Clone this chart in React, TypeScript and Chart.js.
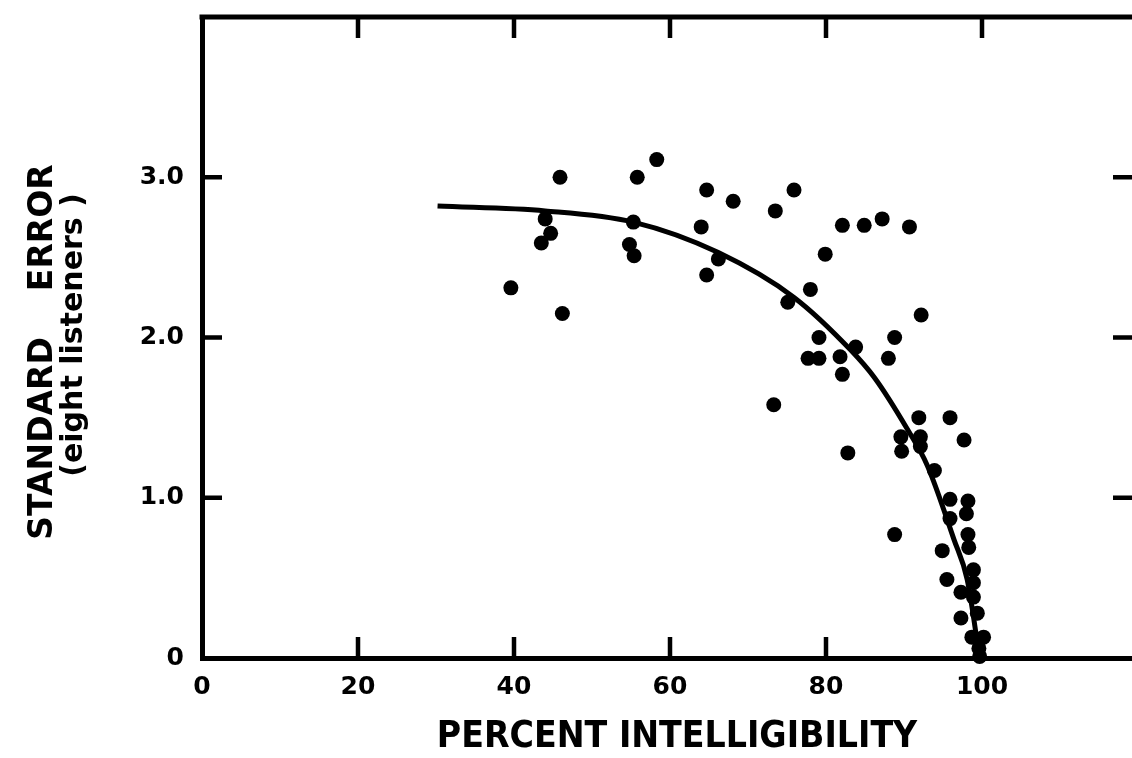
import { useEffect, useRef } from "react";
import { Chart, registerables } from "chart.js";

Chart.register(...registerables);

// Observed listener results: percent intelligibility vs. standard error
const intelligibility = [
  39.6, 43.5, 44.0, 44.7, 45.9, 46.2, 54.8, 55.3, 55.4, 55.8, 58.3,
  64.0, 64.7, 64.7, 66.2, 68.1, 73.5, 75.9, 75.1, 73.3, 78.0, 79.9,
  82.1, 84.9, 87.2, 90.7, 92.2, 79.1, 88.8, 77.7, 79.1, 81.8, 83.8,
  88.0, 82.1, 82.8, 91.9, 95.9, 97.7, 89.6, 89.7, 92.1, 92.1, 93.9,
  95.9, 98.2, 98.0, 95.9, 98.2, 98.3, 88.8, 94.9, 98.9, 95.5, 98.9,
  97.3, 98.9, 99.4, 97.3, 98.7, 100.2, 99.6, 99.7,
];
const standardError = [
  2.31, 2.59, 2.74, 2.65, 3.0, 2.15, 2.58, 2.72, 2.51, 3.0, 3.11,
  2.69, 2.92, 2.39, 2.49, 2.85, 2.79, 2.92, 2.22, 1.58, 2.30, 2.52,
  2.70, 2.70, 2.74, 2.69, 2.14, 2.0, 2.0, 1.87, 1.87, 1.88, 1.94,
  1.87, 1.77, 1.28, 1.50, 1.50, 1.36, 1.38, 1.29, 1.38, 1.32, 1.17,
  0.99, 0.98, 0.90, 0.87, 0.77, 0.69, 0.77, 0.67, 0.55, 0.49, 0.47,
  0.41, 0.38, 0.28, 0.25, 0.13, 0.13, 0.06, 0.01,
];

// Fitted curve
const fitIntelligibility = [30.2, 44, 55.3, 66.2, 75.9, 83.2, 86.2, 90.4, 93.0, 96.4, 98.1, 99.7];
const fitStandardError = [2.82, 2.79, 2.72, 2.53, 2.25, 1.92, 1.75, 1.43, 1.2, 0.74, 0.49, 0.0];

const xTickValues = [0, 20, 40, 60, 80, 100, 120];
const yTickValues = [0, 1, 2, 3, 4];
const xTickLabels = ["0", "20", "40", "60", "80", "100", ""];
const yTickLabels = ["0", "1.0", "2.0", "3.0", ""];

const xTitle = "PERCENT INTELLIGIBILITY";
const yTitle = "STANDARD    ERROR";
const ySubtitle = "(eight listeners )";

const INK = "#000";
const TICK_FONT = "'DejaVu Sans', sans-serif";
const TITLE_FONT = "'Liberation Sans Narrow', 'DejaVu Sans Condensed', 'DejaVu Sans', sans-serif";

const framePlugin = {
  id: "frameAndTitles",
  afterDatasetsDraw(chart: any) {
    const { ctx, chartArea: a, scales } = chart;
    ctx.save();
    ctx.strokeStyle = INK;
    ctx.fillStyle = INK;
    ctx.lineCap = "butt";

    // top and right edges of the frame
    ctx.lineWidth = 5;
    ctx.beginPath();
    ctx.moveTo(a.left - 2.5, a.top);
    ctx.lineTo(a.right + 2.5, a.top);
    ctx.moveTo(a.right, a.top);
    ctx.lineTo(a.right, a.bottom);
    ctx.stroke();

    // tick marks pointing into the plot on all four sides
    ctx.lineWidth = 4.5;
    ctx.beginPath();
    for (const v of xTickValues) {
      if (v === 0) continue;
      const px = scales.x.getPixelForValue(v);
      ctx.moveTo(px, a.bottom);
      ctx.lineTo(px, a.bottom - 21);
      ctx.moveTo(px, a.top);
      ctx.lineTo(px, a.top + 21);
    }
    for (const v of yTickValues) {
      if (v === 0 || v === 4) continue;
      const py = scales.y.getPixelForValue(v);
      ctx.moveTo(a.left, py);
      ctx.lineTo(a.left + 20, py);
      ctx.moveTo(a.right, py);
      ctx.lineTo(a.right - 25, py);
    }
    ctx.stroke();

    // axis titles
    ctx.textAlign = "center";
    ctx.textBaseline = "middle";
    ctx.font = `bold 37px ${TITLE_FONT}`;
    ctx.fillText(xTitle, 677, 737);

    ctx.save();
    ctx.translate(43, 352);
    ctx.rotate(-Math.PI / 2);
    ctx.font = `bold 33px ${TICK_FONT}`;
    ctx.fillText(yTitle, 0, 0);
    ctx.restore();

    ctx.save();
    ctx.translate(74, 335);
    ctx.rotate(-Math.PI / 2);
    ctx.font = `bold 30px ${TICK_FONT}`;
    ctx.fillText(ySubtitle, 0, 0);
    ctx.restore();

    ctx.restore();
  },
};

const noScalePadding = (s: any) => {
  s.paddingTop = 0;
  s.paddingBottom = 0;
  s.paddingLeft = 0;
  s.paddingRight = 0;
};

export default function App() {
  const canvasRef = useRef<HTMLCanvasElement | null>(null);

  useEffect(() => {
    const canvas = canvasRef.current;
    if (!canvas) return;

    const points = intelligibility.map((x, i) => ({ x, y: standardError[i] }));
    const fit = fitIntelligibility.map((x, i) => ({ x, y: fitStandardError[i] }));

    const chart = new Chart(canvas, {
      type: "scatter",
      data: {
        datasets: [
          {
            label: "fit",
            data: fit,
            showLine: true,
            borderColor: INK,
            borderWidth: 5,
            pointRadius: 0,
            cubicInterpolationMode: "monotone",
            clip: false,
            order: 2,
          } as any,
          {
            label: "listeners",
            data: points,
            backgroundColor: INK,
            borderWidth: 0,
            pointRadius: 7.5,
            pointHoverRadius: 7.5,
            clip: false,
            order: 1,
          } as any,
        ],
      },
      plugins: [framePlugin],
      options: {
        responsive: false,
        animation: false,
        devicePixelRatio: 1,
        events: [],
        layout: { padding: { left: 0, top: 17, right: 22, bottom: 0 } },
        plugins: {
          legend: { display: false },
          tooltip: { enabled: false },
        },
        scales: {
          x: {
            type: "linear",
            min: 0,
            max: 120,
            afterFit: (s: any) => {
              s.height = 100;
              noScalePadding(s);
            },
            afterBuildTicks: (s: any) => {
              s.ticks = xTickValues.map((value) => ({ value }));
            },
            grid: { display: false, drawTicks: false },
            border: { display: true, color: INK, width: 5 },
            ticks: {
              color: INK,
              padding: 14,
              maxRotation: 0,
              font: { family: TICK_FONT, size: 25, weight: "bold" },
              callback: (v: any) => xTickLabels[xTickValues.indexOf(Number(v))] ?? "",
            },
          },
          y: {
            type: "linear",
            min: 0,
            max: 4,
            afterFit: (s: any) => {
              s.width = 202;
              noScalePadding(s);
            },
            afterBuildTicks: (s: any) => {
              s.ticks = yTickValues.map((value) => ({ value }));
            },
            grid: { display: false, drawTicks: false },
            border: { display: true, color: INK, width: 5 },
            ticks: {
              color: INK,
              padding: 18,
              font: { family: TICK_FONT, size: 25, weight: "bold" },
              callback: (v: any) => yTickLabels[yTickValues.indexOf(Number(v))] ?? "",
            },
          },
        },
      },
    });

    return () => chart.destroy();
  }, []);

  return (
    <div
      style={{
        position: "fixed",
        left: 0,
        top: 0,
        width: 1132,
        height: 758,
        overflow: "hidden",
        background: "#fff",
      }}
    >
      <canvas ref={canvasRef} width={1160} height={758} style={{ display: "block" }} />
    </div>
  );
}
